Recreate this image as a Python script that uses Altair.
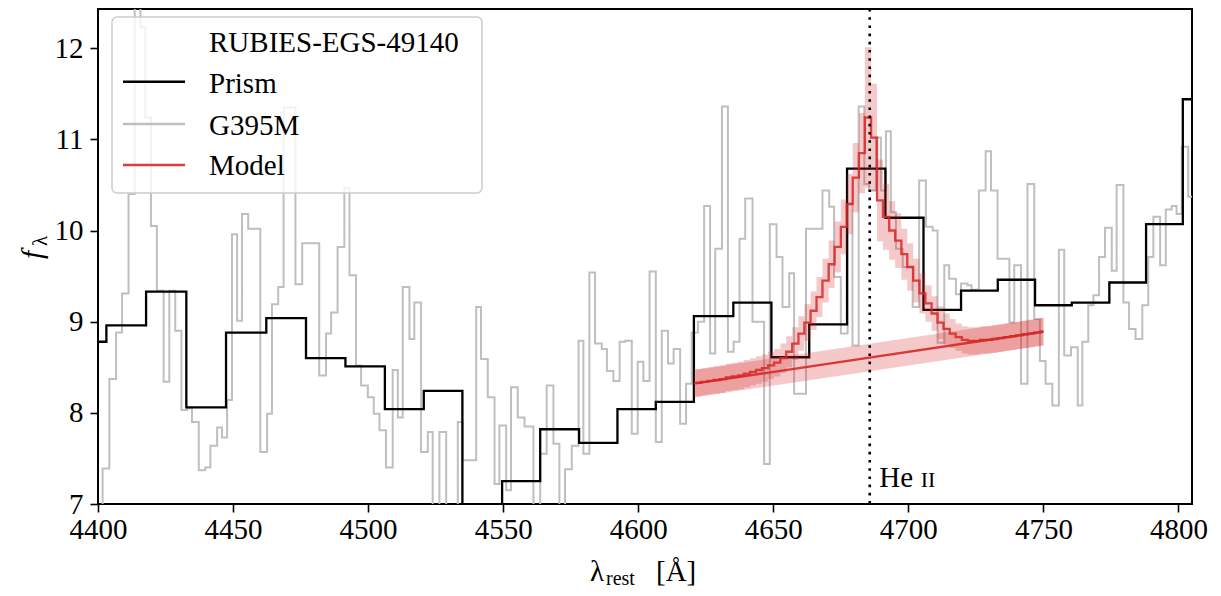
import altair as alt
import pandas as pd

# ---------------- data ----------------
# NIRSpec prism spectrum: left bin edges (Angstrom, rest frame) and flux
prism_wave = [4398.0, 4403.1, 4417.8, 4432.7, 4447.4, 4462.3, 4477.0, 4491.6, 4506.2,
              4520.6, 4534.9, 4549.6, 4563.7, 4578.1, 4592.3, 4606.5, 4620.6, 4635.2,
              4649.3, 4663.3, 4677.3, 4691.5, 4705.6, 4719.5, 4733.1, 4746.9, 4760.5,
              4774.4, 4788.0, 4801.6]
prism_flux = [8.78, 8.96, 9.33, 8.06, 8.88, 9.04, 8.60, 8.51, 8.04,
              8.24, 6.60, 7.25, 7.82, 7.67, 8.04, 8.12, 9.06, 9.21,
              8.61, 8.97, 10.68, 10.14, 9.13, 9.34, 9.46, 9.18, 9.21,
              9.43, 10.07, 11.44]
prism_end = 4812.0

# G395M grating spectrum: left bin edges and flux
g395m_wave = [4399.0, 4401.7, 4404.2, 4406.7, 4408.9, 4411.3, 4413.6, 4415.7, 4417.5, 4419.6,
              4421.8, 4424.3, 4426.4, 4428.6, 4430.9, 4433.0, 4434.8, 4437.3, 4439.7, 4441.6,
              4444.1, 4445.9, 4447.8, 4449.6, 4451.5, 4453.3, 4455.6, 4460.1, 4462.6, 4464.4,
              4466.7, 4468.7, 4473.1, 4475.6, 4481.9, 4484.4, 4486.3, 4488.7, 4491.2, 4493.1,
              4495.5, 4497.4, 4499.9, 4502.1, 4504.2, 4506.6, 4509.1, 4511.0, 4512.8, 4515.3,
              4517.1, 4519.6, 4522.1, 4523.9, 4526.4, 4528.9, 4533.2, 4535.0, 4540.0, 4541.8,
              4544.3, 4546.8, 4548.6, 4551.1, 4552.9, 4555.4, 4557.9, 4561.2, 4563.7, 4566.1,
              4568.6, 4570.8, 4572.9, 4575.4, 4577.9, 4579.7, 4581.9, 4584.0, 4586.5, 4588.4,
              4590.8, 4593.1, 4595.2, 4597.6, 4599.8, 4601.9, 4604.2, 4606.5, 4608.7, 4611.0,
              4613.1, 4615.5, 4617.7, 4619.8, 4622.1, 4624.4, 4626.6, 4628.5, 4631.0, 4633.2,
              4635.3, 4637.5, 4639.6, 4642.3, 4646.6, 4648.7, 4651.2, 4653.4, 4655.9, 4657.7,
              4662.1, 4668.2, 4670.7, 4672.5, 4675.0, 4677.5, 4679.3, 4681.6, 4683.7, 4685.5,
              4688.0, 4689.8, 4691.7, 4693.5, 4695.4, 4697.9, 4701.6, 4704.0, 4706.5, 4709.0,
              4710.8, 4713.3, 4715.1, 4717.6, 4719.5, 4721.9, 4723.4, 4726.1, 4728.6, 4730.6,
              4733.0, 4737.4, 4739.2, 4741.7, 4744.1, 4746.6, 4748.7, 4750.8, 4753.3, 4755.7,
              4757.7, 4760.2, 4762.7, 4764.4, 4766.6, 4768.5, 4770.6, 4772.8, 4775.3, 4777.1,
              4779.6, 4781.7, 4784.1, 4786.6, 4788.8, 4790.7, 4793.2, 4795.3, 4797.5, 4799.3,
              4801.2, 4803.6]
g395m_flux = [6.95, 7.39, 8.37, 8.88, 9.31, 10.40, 12.90, 12.23, 11.24, 10.05,
              9.34, 8.34, 9.34, 8.90, 8.03, 8.05, 7.90, 7.37, 7.40, 7.64,
              7.84, 7.73, 8.14, 9.96, 9.01, 10.18, 10.02, 7.57, 7.99, 9.19,
              9.38, 11.35, 9.41, 9.86, 8.41, 8.87, 9.10, 9.82, 10.47, 9.51,
              8.52, 8.30, 8.17, 7.99, 7.81, 7.40, 8.47, 7.95, 9.38, 8.81,
              9.21, 7.57, 7.79, 6.80, 7.79, 6.80, 7.90, 7.48, 9.16, 8.59,
              8.17, 7.22, 7.86, 7.15, 8.28, 7.95, 7.85, 6.90, 7.55, 8.30,
              7.66, 6.90, 7.38, 7.64, 8.79, 7.55, 9.54, 8.76, 8.70, 8.46,
              8.35, 8.78, 8.79, 7.77, 8.56, 8.35, 9.55, 7.68, 8.90, 8.54,
              8.70, 7.88, 8.32, 8.88, 9.00, 10.27, 8.65, 9.80, 11.36, 8.67,
              8.78, 9.91, 10.35, 9.00, 7.44, 10.07, 9.71, 9.16, 9.53, 8.21,
              10.02, 10.44, 10.26, 9.49, 8.87, 10.30, 8.74, 11.36, 10.51, 10.44,
              11.02, 10.44, 11.09, 10.20, 9.80, 9.60, 9.16, 10.55, 10.04, 10.00,
              8.77, 9.62, 9.47, 9.30, 9.42, 9.40, 9.35, 10.44, 10.87, 10.44,
              9.69, 8.99, 9.62, 8.32, 10.51, 9.03, 8.57, 8.32, 8.08, 9.79,
              8.63, 8.72, 8.08, 8.78, 9.18, 9.29, 9.71, 10.03, 9.56, 10.50,
              9.21, 8.92, 8.81, 9.18, 9.71, 10.15, 9.62, 10.23, 10.27, 10.18,
              10.92, 10.37]
g395m_end = 4810.0

# Model (continuum + He II line) on the grating bins, with its 1-sigma band
model_wave = [4621.2, 4623.4, 4625.7, 4627.9, 4630.2, 4632.4, 4634.6, 4636.9, 4639.1, 4641.4,
              4643.6, 4645.8, 4648.1, 4650.3, 4652.6, 4654.8, 4657.0, 4659.3, 4661.5, 4663.8,
              4666.0, 4668.2, 4670.5, 4672.7, 4675.0, 4677.2, 4679.4, 4681.7, 4683.9, 4686.2,
              4688.4, 4690.6, 4692.9, 4695.1, 4697.4, 4699.6, 4701.8, 4704.1, 4706.3, 4708.6,
              4710.8, 4713.0, 4715.3, 4717.5, 4719.8, 4722.0, 4724.2, 4726.5, 4728.7, 4731.0,
              4733.2, 4735.4, 4737.7, 4739.9, 4742.2, 4744.4, 4746.6, 4748.9]
model_flux = [8.33, 8.34, 8.35, 8.36, 8.37, 8.39, 8.40, 8.41, 8.43, 8.45,
              8.47, 8.49, 8.52, 8.55, 8.60, 8.67, 8.76, 8.87, 8.99, 9.12,
              9.27, 9.45, 9.63, 9.82, 10.04, 10.29, 10.58, 10.85, 11.24, 11.02,
              10.33, 10.15, 10.00, 9.89, 9.74, 9.60, 9.45, 9.31, 9.20, 9.09,
              8.99, 8.92, 8.87, 8.83, 8.80, 8.79, 8.79, 8.80, 8.80, 8.81,
              8.82, 8.83, 8.84, 8.85, 8.86, 8.87, 8.88, 8.89]
model_err = [0.15, 0.15, 0.15, 0.15, 0.15, 0.15, 0.15, 0.15, 0.15, 0.15,
             0.15, 0.15, 0.15, 0.15, 0.16, 0.17, 0.18, 0.19, 0.20, 0.21,
             0.22, 0.24, 0.26, 0.28, 0.30, 0.33, 0.38, 0.44, 0.77, 0.59,
             0.45, 0.36, 0.32, 0.30, 0.28, 0.26, 0.24, 0.22, 0.20, 0.19,
             0.18, 0.17, 0.16, 0.15, 0.15, 0.15, 0.15, 0.15, 0.15, 0.15,
             0.15, 0.15, 0.15, 0.15, 0.15, 0.15, 0.15, 0.15]
model_end = 4750.0

# Continuum alone (straight line) and its band
cont_wave = [4620.6, 4750.0]
cont_flux = [8.32, 8.89]
cont_err = [0.15, 0.15]

heii_wave = 4685.7
heii_label_y = 7.19

legend_labels = ["RUBIES-EGS-49140", "Prism", "G395M", "Model"]
legend_colors = ["transparent", "#000000", "#bfbfbf", "#dc3c3c"]

# ---------------- styling ----------------
FONT = "Liberation Serif"
XDOM = [4400, 4805]
YDOM = [7, 12.43]
RED = "#d62728"


def step_frame(wave, flux, end):
    return pd.DataFrame({"x": list(wave) + [end], "y": list(flux) + [flux[-1]]})


def X(field="x"):
    return alt.X(f"{field}:Q", scale=alt.Scale(domain=XDOM, nice=False, zero=False),
                 axis=alt.Axis(values=list(range(4400, 4801, 50)), format="d", title=None,
                               labelFlush=False, labelOverlap=False))


def Y(field="y"):
    return alt.Y(f"{field}:Q", scale=alt.Scale(domain=YDOM, nice=False, zero=False),
                 axis=alt.Axis(values=[7, 8, 9, 10, 11, 12], format="d", title=None,
                               labelFlush=False, labelOverlap=False))


prism_df = step_frame(prism_wave, prism_flux, prism_end)
g395m_df = step_frame(g395m_wave, g395m_flux, g395m_end)
model_df = step_frame(model_wave, model_flux, model_end)
model_df["lo"] = [f - e for f, e in zip(model_flux, model_err)] + [model_flux[-1] - model_err[-1]]
model_df["hi"] = [f + e for f, e in zip(model_flux, model_err)] + [model_flux[-1] + model_err[-1]]
cont_df = pd.DataFrame({"x": cont_wave, "y": cont_flux,
                        "lo": [f - e for f, e in zip(cont_flux, cont_err)],
                        "hi": [f + e for f, e in zip(cont_flux, cont_err)]})
heii_df = pd.DataFrame({"x": [heii_wave], "y": [heii_label_y]})

grey = alt.Chart(g395m_df).mark_line(interpolate="step-after", clip=True, color="#bfbfbf",
                                     strokeWidth=2).encode(x=X(), y=Y())
prism = alt.Chart(prism_df).mark_line(interpolate="step-after", clip=True, color="black",
                                      strokeWidth=2.3).encode(x=X(), y=Y())
cont_band = alt.Chart(cont_df).mark_area(clip=True, color=RED, opacity=0.25).encode(
    x=X(), y=Y("lo"), y2="hi:Q")
model_band = alt.Chart(model_df).mark_area(interpolate="step-after", clip=True, color=RED,
                                           opacity=0.25).encode(x=X(), y=Y("lo"), y2="hi:Q")
model_line = alt.Chart(model_df).mark_line(interpolate="step-after", clip=True, color=RED,
                                           opacity=0.85, strokeWidth=2.3).encode(x=X(), y=Y())
cont_line = alt.Chart(cont_df).mark_line(clip=True, color=RED, opacity=0.9,
                                         strokeWidth=2.3).encode(x=X(), y=Y())
heii_rule = alt.Chart(heii_df).mark_rule(color="black", strokeWidth=2.6,
                                         strokeDash=[2.6, 5.6]).encode(x=X())
heii_he = alt.Chart(heii_df).mark_text(align="left", baseline="alphabetic", dx=9.5, font=FONT,
                                       fontSize=29, color="black", text="He").encode(x=X(), y=Y())
heii_ii = alt.Chart(heii_df).mark_text(align="left", baseline="alphabetic", dx=51, font=FONT,
                                       fontSize=22, color="black", text="II").encode(x=X(), y=Y())

one = alt.Data(values=[{"k": 1}])

# axis titles (with subscripts)
xt_lam = alt.Chart(one).mark_text(align="left", baseline="alphabetic", font=FONT, fontSize=29,
                                  text="λ").encode(x=alt.value(492), y=alt.value(572))
xt_rest = alt.Chart(one).mark_text(align="left", baseline="alphabetic", font=FONT, fontSize=20,
                                   text="rest").encode(x=alt.value(508), y=alt.value(576))
xt_unit = alt.Chart(one).mark_text(align="left", baseline="alphabetic", font=FONT, fontSize=29,
                                   text="[Å]").encode(x=alt.value(558), y=alt.value(572))
yt_f = alt.Chart(one).mark_text(align="left", baseline="alphabetic", font=FONT, fontSize=30,
                                fontStyle="italic", angle=270,
                                text="f").encode(x=alt.value(-56), y=alt.value(250))
yt_lam = alt.Chart(one).mark_text(align="left", baseline="alphabetic", font=FONT, fontSize=21,
                                  angle=270, text="λ").encode(x=alt.value(-51), y=alt.value(237))

# legend box
leg_box = alt.Chart(one).mark_rect(cornerRadius=5, fill="white", fillOpacity=0.8,
                                   stroke="#cccccc", strokeWidth=1.5).encode(
    x=alt.value(14), x2=alt.value(384), y=alt.value(8), y2=alt.value(184))
leg_rows = []
row_text_y = [42.7, 83.7, 126, 166]
row_line_y = [31, 72.7, 115, 156]
for lab, col, ty, ly in zip(legend_labels, legend_colors, row_text_y, row_line_y):
    leg_rows.append(alt.Chart(one).mark_text(align="left", baseline="alphabetic", font=FONT,
                                             fontSize=29, color="black", text=lab).encode(
        x=alt.value(111), y=alt.value(ty)))
    if col != "transparent":
        leg_rows.append(alt.Chart(one).mark_rule(color=col, strokeWidth=2.4).encode(
            x=alt.value(25), x2=alt.value(87), y=alt.value(ly)))

chart = alt.layer(
    grey, prism, cont_band, model_band, model_line, cont_line, heii_rule, heii_he, heii_ii,
    xt_lam, xt_rest, xt_unit, yt_f, yt_lam, leg_box, *leg_rows
).properties(
    width=1094, height=495,
    autosize=alt.AutoSizeParams(type="none"),
    padding={"left": 90, "top": 1, "right": 21, "bottom": 84},
).configure_view(
    stroke="black", strokeWidth=2
).configure_axis(
    domain=False, grid=False, labelFont=FONT, labelFontSize=29, labelColor="black",
    tickColor="black", tickWidth=1.6, tickSize=8
).configure_axisX(labelPadding=3).configure_axisY(labelPadding=7)

chart.save("out.html", embed_options={"renderer": "svg", "actions": False})
